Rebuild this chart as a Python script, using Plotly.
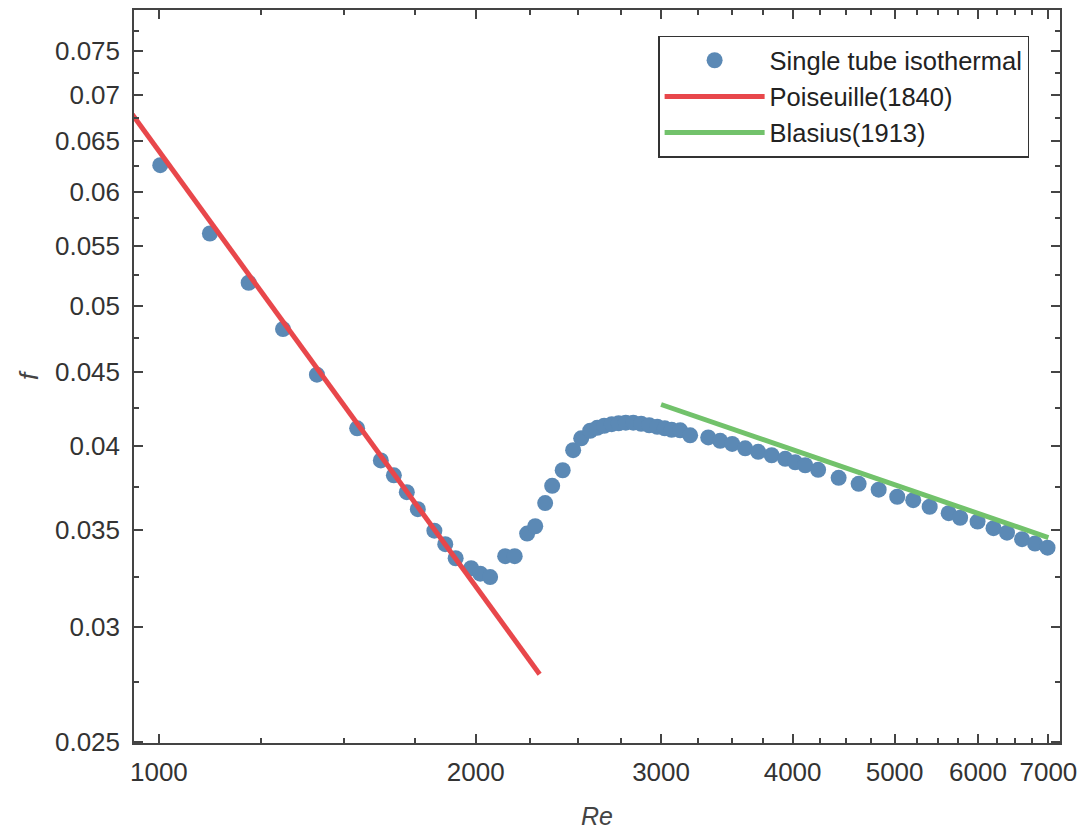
import plotly.graph_objects as go
import numpy as np

# ---- data ----
re_meas = [1003, 1118, 1217, 1312, 1413, 1543, 1625, 1672, 1720, 1762,
           1827, 1871, 1914, 1980, 2020, 2064, 2133, 2178, 2238, 2278,
           2328, 2364, 2419, 2475, 2519, 2569, 2609, 2649, 2693, 2734,
           2777, 2823, 2872, 2923, 2975, 3024, 3070, 3128, 3197, 3326,
           3414, 3505, 3606, 3710, 3821, 3936, 4023, 4112, 4230, 4424,
           4622, 4829, 5029, 5208, 5399, 5628, 5771, 5995, 6208, 6394,
           6608, 6798, 6987]
f_meas = [0.06257, 0.05612, 0.05189, 0.04820, 0.04483, 0.04116, 0.03911, 0.03819, 0.03718, 0.03619,
          0.03497, 0.03423, 0.03347, 0.03294, 0.03266, 0.03248, 0.03358, 0.03358, 0.03481, 0.03522,
          0.03654, 0.03756, 0.03850, 0.03975, 0.04051, 0.04100, 0.04119, 0.04133, 0.04143, 0.04149,
          0.04153, 0.04153, 0.04146, 0.04136, 0.04126, 0.04116, 0.04106, 0.04103, 0.04070, 0.04057,
          0.04035, 0.04015, 0.03987, 0.03965, 0.03943, 0.03921, 0.03899, 0.03881, 0.03853, 0.03804,
          0.03768, 0.03733, 0.03691, 0.03671, 0.03633, 0.03596, 0.03570, 0.03548, 0.03511, 0.03486,
          0.03450, 0.03426, 0.03404]

poiseuille_re = [900, 2300]
poiseuille_f = [0.07111, 0.02783]

blasius_re = [3000, 7000]
blasius_f = [0.04275, 0.03459]

x_tick_vals = [1000, 2000, 3000, 4000, 5000, 6000, 7000]
x_tick_text = ["1000", "2000", "3000", "4000", "5000", "6000", "7000"]
x_minor_vals = [1250, 1500, 1750, 2250, 2500, 2750, 3250, 3500, 3750, 4250, 4500, 4750,
                5250, 5500, 5750, 6250, 6500, 6750]
y_tick_vals = [0.025, 0.03, 0.035, 0.04, 0.045, 0.05, 0.055, 0.06, 0.065, 0.07, 0.075]
y_tick_text = ["0.025", "0.03", "0.035", "0.04", "0.045", "0.05", "0.055", "0.06", "0.065", "0.07", "0.075"]
y_minor_vals = [0.0275, 0.0325, 0.0375, 0.0425, 0.0475, 0.0525, 0.0575, 0.0625, 0.0675, 0.0725, 0.0775]

BLUE = "#5b89b5"
RED = "#e8474b"
GREEN = "#72c26b"
AX = "#444444"
TXT = "#333333"
FONT = "Liberation Sans, Arial, sans-serif"

fig = go.Figure()
fig.add_trace(go.Scatter(x=re_meas, y=f_meas, mode="markers", name="Single tube isothermal",
                         marker=dict(color=BLUE, size=16, line=dict(width=0))))
fig.add_trace(go.Scatter(x=poiseuille_re, y=poiseuille_f, mode="lines", name="Poiseuille(1840)",
                         line=dict(color=RED, width=5)))
fig.add_trace(go.Scatter(x=blasius_re, y=blasius_f, mode="lines", name="Blasius(1913)",
                         line=dict(color=GREEN, width=5)))

axis_common = dict(showline=True, linecolor=AX, linewidth=1.5, mirror="ticks",
                   ticks="inside", ticklen=9, tickwidth=1.5, tickcolor=AX,
                   showgrid=False, zeroline=False, automargin=False,
                   tickfont=dict(family=FONT, size=26, color=TXT))

fig.update_xaxes(type="log", range=[np.log10(947), np.log10(7180)],
                 tickmode="array", tickvals=x_tick_vals, ticktext=x_tick_text,
                 minor=dict(tickmode="array", tickvals=x_minor_vals, ticks="inside",
                            ticklen=5, tickwidth=1.5, tickcolor=AX, showgrid=False),
                 title=dict(text="<i>Re</i>", font=dict(family=FONT, size=25, color="#444444"), standoff=22),
                 ticklabelstandoff=5,
                 **axis_common)
fig.update_yaxes(type="log", range=[np.log10(0.025) - 0.001, np.log10(0.0801)],
                 tickmode="array", tickvals=y_tick_vals, ticktext=y_tick_text,
                 minor=dict(tickmode="array", tickvals=y_minor_vals, ticks="inside",
                            ticklen=5, tickwidth=1.5, tickcolor=AX, showgrid=False),
                 title=dict(text="<i>f</i>", font=dict(family=FONT, size=26, color="#444444"), standoff=9),
                 ticklabelstandoff=7,
                 **axis_common)

fig.update_layout(
    width=1081, height=830,
    margin=dict(l=134, r=21, t=10, b=87),
    paper_bgcolor="white", plot_bgcolor="white",
    font=dict(family=FONT, color=TXT),
    legend=dict(x=0.566, y=0.965, xanchor="left", yanchor="top",
                bgcolor="white", bordercolor="#333333", borderwidth=1.5,
                font=dict(family=FONT, size=25.5, color="#222222"),
                itemwidth=100, tracegroupgap=0),
)

fig.write_html("out.html", config={"displayModeBar": False},
               post_script="document.body.style.margin='0';document.body.style.overflow='hidden';")
